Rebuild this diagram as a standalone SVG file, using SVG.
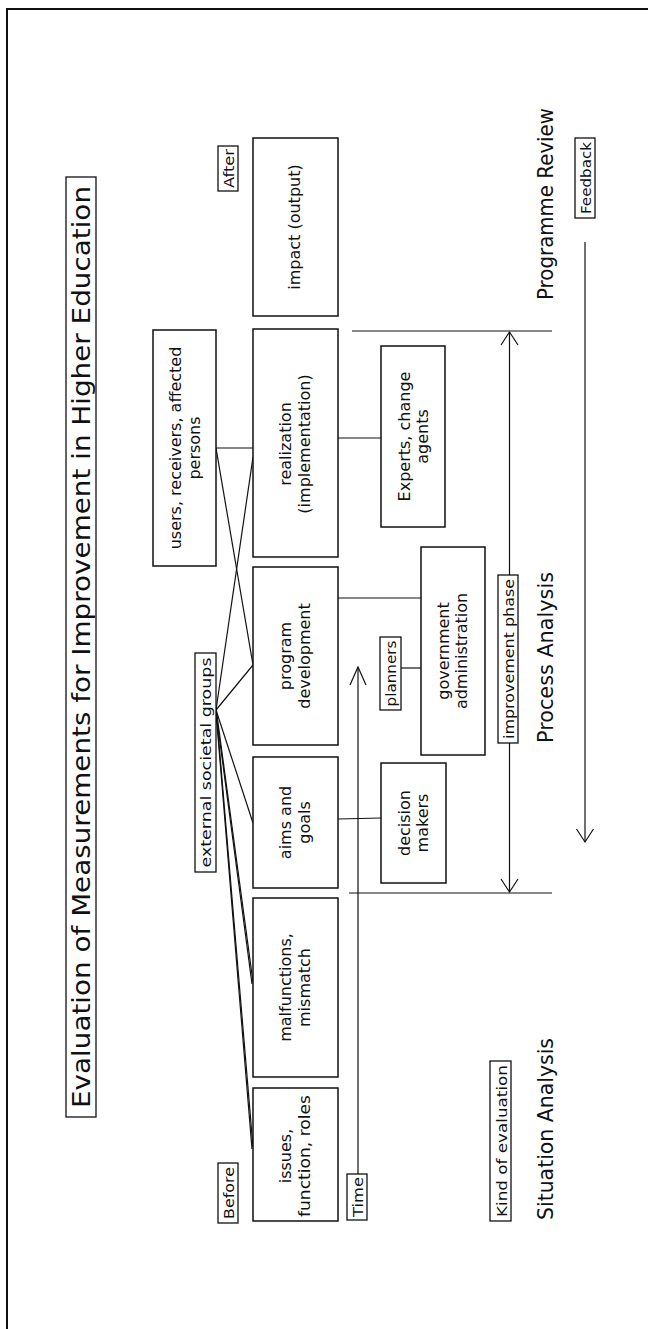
<svg xmlns="http://www.w3.org/2000/svg" width="648" height="1329" viewBox="0 0 648 1329">
<style>
.bx{fill:#fff;stroke:#111;stroke-width:1.5}
.lb{fill:#fff;stroke:#111;stroke-width:1.3}
.ln{fill:none;stroke:#111;stroke-width:1.2}
text{font-family:"DejaVu Sans","Liberation Sans",sans-serif;fill:#111;text-anchor:middle}
.t{font-size:16px}
.s{font-size:14px}
.b{font-size:21px}
</style>
<defs>
<marker id="ah" markerUnits="userSpaceOnUse" markerWidth="30" markerHeight="30" refX="0" refY="0" viewBox="-20 -15 30 30" orient="auto">
<path d="M-13,-8.5 L0,0 L-13,8.5" fill="none" stroke="#111" stroke-width="1.2"/>
</marker>
<marker id="ahl" markerUnits="userSpaceOnUse" markerWidth="30" markerHeight="30" refX="0" refY="0" viewBox="-20 -15 30 30" orient="auto">
<path d="M-18,-8 L0,0 L-18,8" fill="none" stroke="#111" stroke-width="1.2"/>
</marker>
</defs>
<rect x="7" y="9" width="700" height="1400" fill="none" stroke="#111" stroke-width="2"/>

<g id="connectors">
<line class="ln" x1="216" y1="448" x2="253" y2="448"/>
<line class="ln" x1="216" y1="448" x2="253" y2="665"/>
<line class="ln" x1="216" y1="710" x2="253" y2="457"/>
<line class="ln" x1="216" y1="710" x2="253" y2="665"/>
<line class="ln" x1="216" y1="710" x2="253" y2="823"/>
<line class="ln" x1="216" y1="708" x2="253" y2="982"/>
<line class="ln" x1="216" y1="712" x2="252" y2="984"/>
<line class="ln" x1="216" y1="708" x2="253" y2="1147"/>
<line class="ln" x1="216" y1="712" x2="252" y2="1149"/>
<line class="ln" x1="338" y1="438" x2="381" y2="438"/>
<line class="ln" x1="338" y1="598" x2="421" y2="598"/>
<line class="ln" x1="401" y1="668" x2="421" y2="668"/>
<line class="ln" x1="338" y1="819" x2="381" y2="818"/>
<line class="ln" x1="358" y1="1174" x2="358" y2="667" marker-end="url(#ahl)"/>
<line class="ln" x1="352" y1="331" x2="552" y2="331"/>
<line class="ln" x1="349" y1="893" x2="552" y2="893"/>
<line class="ln" x1="509.5" y1="612" x2="509.5" y2="332" marker-end="url(#ah)"/>
<line class="ln" x1="509.5" y1="612" x2="509.5" y2="892" marker-end="url(#ah)"/>
<line class="ln" x1="585" y1="242" x2="585" y2="842" marker-end="url(#ah)"/>
</g>

<g id="title">
<rect class="lb" x="66" y="177" width="30" height="940"/>
<text transform="translate(90,647) rotate(-90)" style="font-size:24px" textLength="922" lengthAdjust="spacingAndGlyphs">Evaluation of Measurements for Improvement in Higher Education</text>
</g>

<g id="before"><rect class="lb" x="218" y="1163" width="20" height="60"/><text class="s" transform="translate(234,1193) rotate(-90)" textLength="52" lengthAdjust="spacingAndGlyphs">Before</text></g>
<g id="after"><rect class="lb" x="218" y="146" width="20" height="45"/><text class="s" transform="translate(234,168.5) rotate(-90)" textLength="39" lengthAdjust="spacingAndGlyphs">After</text></g>
<g id="external"><rect class="lb" x="195" y="653" width="21" height="219"/><text class="s" transform="translate(211,762.5) rotate(-90)" textLength="210" lengthAdjust="spacingAndGlyphs">external societal groups</text></g>
<g id="time"><rect class="lb" x="347" y="1174" width="20" height="46"/><text class="s" transform="translate(363,1197) rotate(-90)" textLength="40" lengthAdjust="spacingAndGlyphs">Time</text></g>
<g id="planners"><rect class="lb" x="380" y="637" width="21" height="73"/><text class="s" transform="translate(396,673.5) rotate(-90)" textLength="66" lengthAdjust="spacingAndGlyphs">planners</text></g>
<g id="improvement"><rect class="lb" x="498" y="575" width="20" height="168"/><text class="s" transform="translate(514,659) rotate(-90)" textLength="160" lengthAdjust="spacingAndGlyphs">improvement phase</text></g>
<g id="kind"><rect class="lb" x="490" y="1061" width="21" height="160"/><text class="s" transform="translate(507,1141) rotate(-90)" textLength="152" lengthAdjust="spacingAndGlyphs">Kind of evaluation</text></g>
<g id="feedback"><rect class="lb" x="575" y="138" width="20" height="80"/><text class="s" transform="translate(591,178) rotate(-90)" textLength="72" lengthAdjust="spacingAndGlyphs">Feedback</text></g>

<g id="issues"><rect class="bx" x="253" y="1088" width="85" height="133"/>
<text class="t" transform="translate(291,1156) rotate(-90)">issues,</text>
<text class="t" transform="translate(310,1156) rotate(-90)" textLength="122" lengthAdjust="spacingAndGlyphs">function, roles</text></g>
<g id="malfunctions"><rect class="bx" x="253" y="898" width="85" height="179"/>
<text class="t" transform="translate(291,987.5) rotate(-90)">malfunctions,</text>
<text class="t" transform="translate(310,987.5) rotate(-90)">mismatch</text></g>
<g id="aims"><rect class="bx" x="253" y="757" width="85" height="131"/>
<text class="t" transform="translate(291,822.5) rotate(-90)">aims and</text>
<text class="t" transform="translate(310,822.5) rotate(-90)">goals</text></g>
<g id="program"><rect class="bx" x="253" y="567" width="85" height="178"/>
<text class="t" transform="translate(291,656) rotate(-90)">program</text>
<text class="t" transform="translate(310,656) rotate(-90)">development</text></g>
<g id="realization"><rect class="bx" x="253" y="329" width="85" height="228"/>
<text class="t" transform="translate(291,444) rotate(-90)">realization</text>
<text class="t" transform="translate(310,444) rotate(-90)">(implementation)</text></g>
<g id="impact"><rect class="bx" x="253" y="138" width="85" height="178"/>
<text class="t" transform="translate(300,227) rotate(-90)">impact (output)</text></g>
<g id="users"><rect class="bx" x="153" y="330" width="63" height="236"/>
<text class="t" transform="translate(181,448) rotate(-90)">users, receivers, affected</text>
<text class="t" transform="translate(200,448) rotate(-90)">persons</text></g>
<g id="decision"><rect class="bx" x="381" y="763" width="65" height="120"/>
<text class="t" transform="translate(410,823) rotate(-90)">decision</text>
<text class="t" transform="translate(428,823) rotate(-90)">makers</text></g>
<g id="government"><rect class="bx" x="421" y="547" width="64" height="208"/>
<text class="t" transform="translate(449,651) rotate(-90)">government</text>
<text class="t" transform="translate(467,651) rotate(-90)">administration</text></g>
<g id="experts"><rect class="bx" x="381" y="346" width="64" height="181"/>
<text class="t" transform="translate(410,436.5) rotate(-90)">Experts, change</text>
<text class="t" transform="translate(428,436.5) rotate(-90)">agents</text></g>

<g id="situation"><text class="b" transform="translate(553,1129) rotate(-90)" textLength="182" lengthAdjust="spacingAndGlyphs">Situation Analysis</text></g>
<g id="process"><text class="b" transform="translate(553,657.5) rotate(-90)" textLength="171" lengthAdjust="spacingAndGlyphs">Process Analysis</text></g>
<g id="review"><text class="b" transform="translate(553,204) rotate(-90)" textLength="192" lengthAdjust="spacingAndGlyphs">Programme Review</text></g>
</svg>
